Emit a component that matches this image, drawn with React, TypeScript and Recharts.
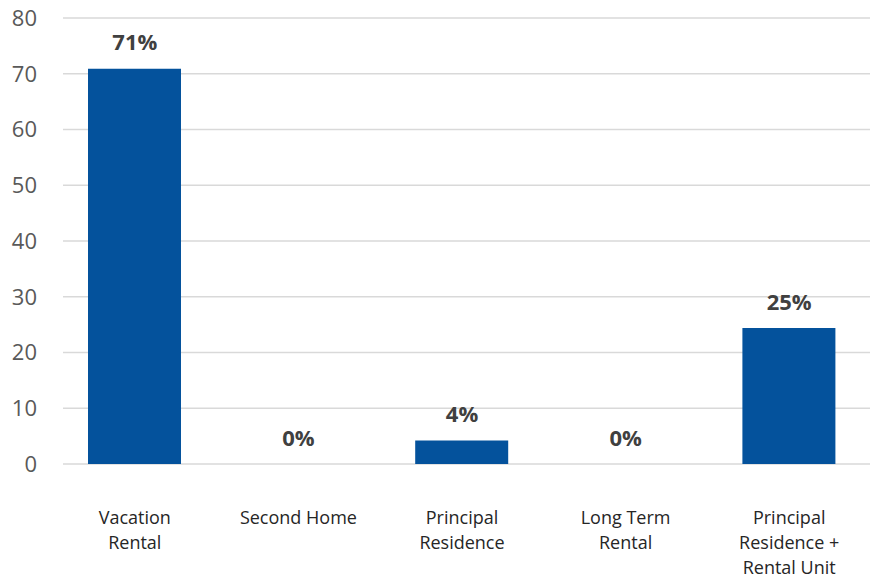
import { Bar, CartesianGrid, ComposedChart, LabelList, Line, XAxis, YAxis } from "recharts"

const categories = ["Vacation Rental", "Second Home", "Principal Residence", "Long Term Rental", "Principal Residence + Rental Unit"]
const tickLines = [["Vacation", "Rental"], ["Second Home"], ["Principal", "Residence"], ["Long Term", "Rental"], ["Principal", "Residence +", "Rental Unit"]]
const values = [70.9, 0, 4.2, 0, 24.4]
const pctLabels = ["71%", "0%", "4%", "0%", "25%"]
const yTicks = [0, 10, 20, 30, 40, 50, 60, 70, 80]

const data = categories.map((name, i) => ({ name, value: values[i], label: pctLabels[i] }))

const FONT = "'Open Sans', sans-serif"

function CategoryTick(props: any) {
  const { x, y, index } = props
  const lines = tickLines[index] ?? []
  return (
    <text x={x} y={y} textAnchor="middle" fontFamily={FONT} fontSize={18} fill="#262626">
      {lines.map((line, i) => (
        <tspan key={i} x={x} y={y + 54 + i * 25} dy="0.35em">
          {line}
        </tspan>
      ))}
    </text>
  )
}

// labels ride on an invisible line so the 0% bars still get one
function PctLabel(props: any) {
  const { x, y, value } = props
  return (
    <text x={x} y={y - 26} dy="0.35em" textAnchor="middle" fontFamily={FONT} fontSize={22} fontWeight="bold" fill="#404040">
      {value}
    </text>
  )
}

export default function App() {
  return (
    <div style={{ position: "absolute", left: 0, top: 0, background: "#fff" }}>
      <ComposedChart width={871} height={578} data={data} margin={{ top: 18, right: 0, left: 0, bottom: 0 }}>
        <CartesianGrid vertical={false} stroke="#d9d9d9" strokeWidth={1.5} x={63} width={807} />
        <XAxis dataKey="name" axisLine={false} tickLine={false} tickSize={0} tickMargin={0} height={114} interval={0} tick={<CategoryTick />} />
        <YAxis
          domain={[0, 80]}
          ticks={yTicks}
          axisLine={false}
          tickLine={false}
          tickSize={0}
          tickMargin={16}
          width={53}
          tick={{ fill: "#595959", fontSize: 22, fontFamily: FONT }}
        />
        <Bar dataKey="value" fill="#04529C" barSize={93} isAnimationActive={false} />
        <Line dataKey="value" stroke="none" dot={false} activeDot={false} isAnimationActive={false}>
          <LabelList dataKey="label" content={<PctLabel />} />
        </Line>
      </ComposedChart>
    </div>
  )
}
